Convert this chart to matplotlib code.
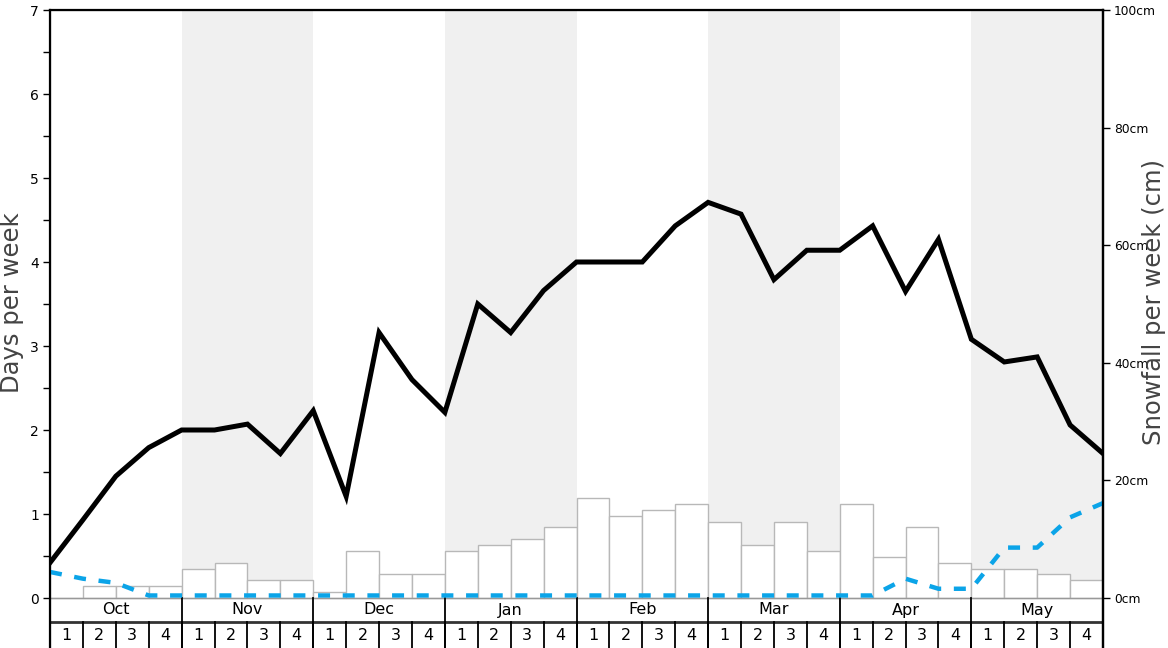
import numpy as np
import matplotlib.pyplot as plt
import matplotlib.ticker as ticker

# ---- data ----
months = ['Oct', 'Nov', 'Dec', 'Jan', 'Feb', 'Mar', 'Apr', 'May']
week_labels = ['1', '2', '3', '4']

# days per week (values at week boundaries, 33 points)
snow_days = [0.42, 0.93, 1.45, 1.79, 2.0, 2.0, 2.07, 1.72, 2.23, 1.21, 3.16,
             2.6, 2.21, 3.5, 3.16, 3.66, 4.0, 4.0, 4.0, 4.43, 4.71, 4.57,
             3.79, 4.14, 4.14, 4.43, 3.65, 4.27, 3.08, 2.81, 2.87, 2.06, 1.72]
other_days = [0.31, 0.23, 0.18, 0.03, 0.03, 0.03, 0.03, 0.03, 0.03, 0.03, 0.03,
              0.03, 0.03, 0.03, 0.03, 0.03, 0.03, 0.03, 0.03, 0.03, 0.03, 0.03,
              0.03, 0.03, 0.03, 0.03, 0.23, 0.11, 0.11, 0.6, 0.6, 0.96, 1.13]

# snowfall per week (cm), 32 weeks
snowfall_cm = [0, 2, 2, 2, 5, 6, 3, 3, 1.1, 8, 4, 4, 8, 9, 10, 12,
               17, 14, 15, 16, 13, 9, 13, 8, 16, 7, 12, 6, 5, 5, 4, 3]

##################################################################
# layout
##################################################################
W, H = 1168, 648
fig = plt.figure(figsize=(W / 100, H / 100), dpi=100)
ax = fig.add_axes([50 / W, 0, 1053 / W, 638 / H])

n_weeks = len(snowfall_cm)
days_max = 7
cm_max = 100
scale = days_max / cm_max
row1 = -24 / 84          # month row bottom
ybot = -50 / 84          # week row bottom

ax.set_xlim(0, n_weeks)
ax.set_ylim(ybot, days_max)

# alternating month shading
for i in range(1, len(months), 2):
    ax.bar(i * 4, days_max, width=4, align='edge', color='#f0f0f0', zorder=0)

# snowfall bars (cm mapped onto the days axis)
ax.bar(np.arange(n_weeks), np.array(snowfall_cm) * scale, width=1, align='edge',
       facecolor='white', edgecolor='#b8b8b8', linewidth=1, zorder=1)

x_pts = np.arange(n_weeks + 1)
ax.plot(x_pts, snow_days, color='black', lw=3.6, solid_joinstyle='miter', zorder=4)
ax.plot(x_pts, other_days, color='#0ba4e8', lw=3.2, dashes=(2.7, 2.85),
        dash_capstyle='butt', zorder=3)

# ---- month / week label rows ----
ax.axhline(0, color='#999999', lw=1, zorder=2)
ax.axhline(row1, color='#333333', lw=2, zorder=2)
for m in range(1, len(months)):
    ax.plot([m * 4, m * 4], [0, ybot], color='black', lw=1.3, zorder=2)
for w in range(1, n_weeks):
    ax.plot([w, w], [row1, ybot], color='black', lw=1.3, zorder=2)
for m, name in enumerate(months):
    ax.text(m * 4 + 2, row1 / 2, name, ha='center', va='center', fontsize=11.5)
    for j, wl in enumerate(week_labels):
        ax.text(m * 4 + j + 0.5, (row1 + ybot) / 2, wl, ha='center',
                va='center', fontsize=11.5)

# ---- axes styling ----
ax.set_xticks([])
ax.yaxis.set_major_locator(ticker.FixedLocator(range(days_max + 1)))
ax.yaxis.set_minor_locator(ticker.FixedLocator(np.arange(0.5, days_max, 1)))
ax.tick_params(axis='y', which='both', length=5, width=1, labelsize=10, pad=3)
for side in ['left', 'top', 'right']:
    ax.spines[side].set_linewidth(1.6)
ax.spines['bottom'].set_visible(False)

ax.set_ylabel('Days per week', fontsize=17.5, color='#444444')
ax.yaxis.set_label_coords(-0.0247, 0.541)

ax2 = ax.twinx()
ax2.set_ylim(ybot / scale, cm_max)
ax2.set_yticks(range(0, cm_max + 1, 20))
ax2.yaxis.set_major_formatter(ticker.FuncFormatter(lambda v, p: f'{v:g}cm'))
ax2.tick_params(axis='y', length=5, width=1, labelsize=8.8, pad=3)
ax2.spines['right'].set_linewidth(1.6)
ax2.spines['bottom'].set_visible(False)
ax2.set_ylabel('Snowfall per week (cm)', fontsize=17.5, color='#444444')
ax2.yaxis.set_label_coords(1.0366, 0.543)

fig.savefig('out.png', dpi=100)
